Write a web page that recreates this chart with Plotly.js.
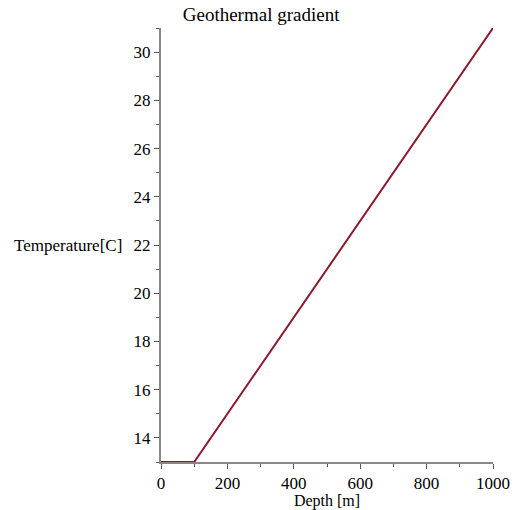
<!DOCTYPE html>
<html>
<head>
<meta charset="utf-8">
<script src="https://cdn.plot.ly/plotly-3.0.1.min.js"></script>
<style>
  html, body { margin: 0; padding: 0; background: #fff; }
  #chart { width: 517px; height: 510px; }
</style>
</head>
<body>
<div id="chart"></div>
<script>
// Temperature profile: constant near the surface, then a linear gradient
const depth = [0, 100, 1000];
const temperature = [13, 13, 31];
const xTickVals = [0, 200, 400, 600, 800, 1000];
const yTickVals = [14, 16, 18, 20, 22, 24, 26, 28, 30];

const serif = 'Liberation Serif, Times New Roman, serif';

const trace = {
  x: depth,
  y: temperature,
  type: 'scatter',
  mode: 'lines',
  line: { color: '#8b1a2c', width: 2 },
  cliponaxis: false,
  hoverinfo: 'skip'
};

const axisCommon = {
  showgrid: false,
  zeroline: false,
  showline: true,
  linecolor: '#888',
  linewidth: 2,
  layer: 'below traces',
  ticks: 'outside',
  ticklen: 5,
  tickwidth: 1,
  tickcolor: '#555',
  tickfont: { family: serif, size: 17, color: '#000' },
  minor: { ticks: 'outside', ticklen: 3, tickcolor: '#555', tickwidth: 1 }
};

const layout = {
  width: 517,
  height: 510,
  margin: { l: 161, r: 24, t: 28, b: 48 },
  paper_bgcolor: '#fff',
  plot_bgcolor: '#fff',
  showlegend: false,
  title: {
    text: 'Geothermal gradient',
    font: { family: serif, size: 19, color: '#000' },
    x: 0.505, xanchor: 'center', y: 0.972, yanchor: 'middle'
  },
  xaxis: Object.assign({}, axisCommon, {
    range: [0, 1000],
    tickvals: xTickVals,
    minor: Object.assign({}, axisCommon.minor, { dtick: 100, tick0: 0 }),
    title: { text: 'Depth [m]', font: { family: serif, size: 16, color: '#000' }, standoff: 5 }
  }),
  yaxis: Object.assign({}, axisCommon, {
    range: [13, 31],
    tickvals: yTickVals,
    minor: Object.assign({}, axisCommon.minor, { dtick: 1, tick0: 13 })
  }),
  annotations: [{
    text: 'Temperature[C]',
    xref: 'paper', yref: 'y',
    x: -0.112, y: 22,
    xanchor: 'right', yanchor: 'middle',
    showarrow: false,
    font: { family: serif, size: 17, color: '#000' }
  }]
};

Plotly.newPlot('chart', [trace], layout, { displayModeBar: false, staticPlot: true });
</script>
</body>
</html>
